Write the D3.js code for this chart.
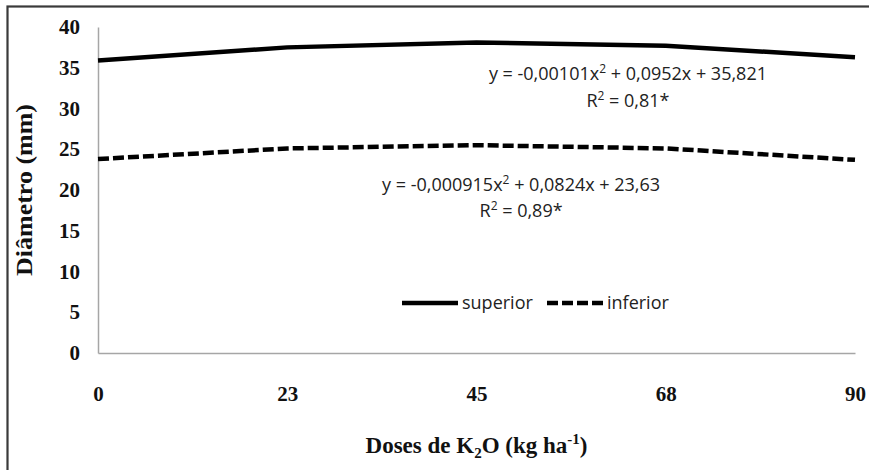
<!DOCTYPE html>
<html>
<head>
<meta charset="utf-8">
<script src="https://cdn.jsdelivr.net/npm/d3@7"></script>
<style>
  html, body { margin: 0; padding: 0; background: #fff; }
  svg { display: block; }
</style>
</head>
<body>
<svg id="chart" width="869" height="470"></svg>
<script>
// ---- data ----
const doses = ["0", "23", "45", "68", "90"];
const superior = [35.9, 37.5, 38.1, 37.7, 36.3];
const inferior = [23.8, 25.1, 25.5, 25.1, 23.7];
const yTicks = [0, 5, 10, 15, 20, 25, 30, 35, 40];
const seriesNames = ["superior", "inferior"];
const eqSuperior = ["y = -0,00101x² + 0,0952x + 35,821", "R² = 0,81*"];
const eqInferior = ["y = -0,000915x² + 0,0824x + 23,63", "R² = 0,89*"];

const svg = d3.select("#chart");

// outer frame (extends past right/bottom edges)
svg.append("rect")
  .attr("x", 7.5).attr("y", 6.5)
  .attr("width", 880).attr("height", 480)
  .attr("fill", "#fff")
  .attr("stroke", "#3a3a3a")
  .attr("stroke-width", 2.2);

const plot = { left: 98, right: 855, top: 27, bottom: 353 };

const x = d3.scalePoint().domain(doses).range([plot.left, plot.right]);
const y = d3.scaleLinear().domain([0, 40]).range([plot.bottom, plot.top]);

const serif = "'Liberation Serif', 'Times New Roman', serif";
const sans = "'Open Sans', 'Noto Sans', sans-serif";

// y axis
const yAxis = svg.append("g")
  .attr("transform", `translate(${plot.left},0)`)
  .call(d3.axisLeft(y).tickValues(yTicks).tickSize(0).tickPadding(18));
yAxis.select(".domain").attr("stroke", "#a6a6a6").attr("stroke-width", 1.5);
yAxis.selectAll("text")
  .attr("font-family", serif).attr("font-weight", "bold")
  .attr("font-size", 21).attr("fill", "#111");

// x axis
const xAxis = svg.append("g")
  .attr("transform", `translate(0,${plot.bottom})`)
  .call(d3.axisBottom(x).tickSize(0).tickPadding(33));
xAxis.select(".domain").attr("stroke", "#a6a6a6").attr("stroke-width", 1.5);
xAxis.selectAll("text")
  .attr("font-family", serif).attr("font-weight", "bold")
  .attr("font-size", 21).attr("fill", "#111");

// axis titles
svg.append("text")
  .attr("transform", `translate(32,${(plot.top + plot.bottom) / 2}) rotate(-90)`)
  .attr("text-anchor", "middle")
  .attr("font-family", serif).attr("font-weight", "bold")
  .attr("font-size", 23).attr("fill", "#111")
  .attr("textLength", 172).attr("lengthAdjust", "spacingAndGlyphs")
  .text("Diâmetro (mm)");

const xt = svg.append("text")
  .attr("x", (plot.left + plot.right) / 2).attr("y", 453)
  .attr("text-anchor", "middle")
  .attr("font-family", serif).attr("font-weight", "bold")
  .attr("font-size", 23).attr("fill", "#111");
xt.append("tspan").text("Doses de K");
xt.append("tspan").attr("font-size", 15).attr("dy", 5).text("2");
xt.append("tspan").attr("dy", -5).text("O (kg ha");
xt.append("tspan").attr("font-size", 15).attr("dy", -9).text("-1");
xt.append("tspan").attr("dy", 9).text(")");

// lines
const line = d3.line()
  .x((d, i) => x(doses[i]))
  .y(d => y(d));

svg.append("path")
  .datum(superior)
  .attr("fill", "none").attr("stroke", "#000")
  .attr("stroke-width", 4.5)
  .attr("d", line);

svg.append("path")
  .datum(inferior)
  .attr("fill", "none").attr("stroke", "#000")
  .attr("stroke-width", 4.5)
  .attr("stroke-dasharray", "11,4")
  .attr("d", line);

// equations
function richText(str, xx, yy, anchor) {
  const t = svg.append("text")
    .attr("x", xx).attr("y", yy)
    .attr("text-anchor", anchor)
    .attr("font-family", sans).attr("font-size", 18)
    .attr("fill", "#222");
  const parts = str.split("²");
  parts.forEach((p, j) => {
    const s = t.append("tspan").text(p);
    if (j > 0) s.attr("dy", 7);
    if (j < parts.length - 1) {
      t.append("tspan").attr("font-size", 12).attr("dy", -7).text("2");
    }
  });
  return t;
}
function eq(lines, anchorX, anchor, y1, y2) {
  const t1 = richText(lines[0], anchorX, y1, anchor);
  const w = t1.node().getComputedTextLength();
  const cx = anchor === "end" ? anchorX - w / 2 : anchorX + w / 2;
  richText(lines[1], cx, y2, "middle");
}
eq(eqSuperior, 767, "end", 80, 107);
eq(eqInferior, 382, "start", 191, 217);

// legend
const legend = svg.append("g");
const lgY = 303;
legend.append("line")
  .attr("x1", 402).attr("x2", 458).attr("y1", lgY).attr("y2", lgY)
  .attr("stroke", "#000").attr("stroke-width", 4.5);
legend.append("text")
  .attr("x", 462).attr("y", lgY + 6)
  .attr("font-family", sans).attr("font-size", 18).attr("fill", "#222")
  .text(seriesNames[0]);
legend.append("line")
  .attr("x1", 547).attr("x2", 603).attr("y1", lgY).attr("y2", lgY)
  .attr("stroke", "#000").attr("stroke-width", 4.5)
  .attr("stroke-dasharray", "11,4");
legend.append("text")
  .attr("x", 607).attr("y", lgY + 6)
  .attr("font-family", sans).attr("font-size", 18).attr("fill", "#222")
  .text(seriesNames[1]);
</script>
</body>
</html>
